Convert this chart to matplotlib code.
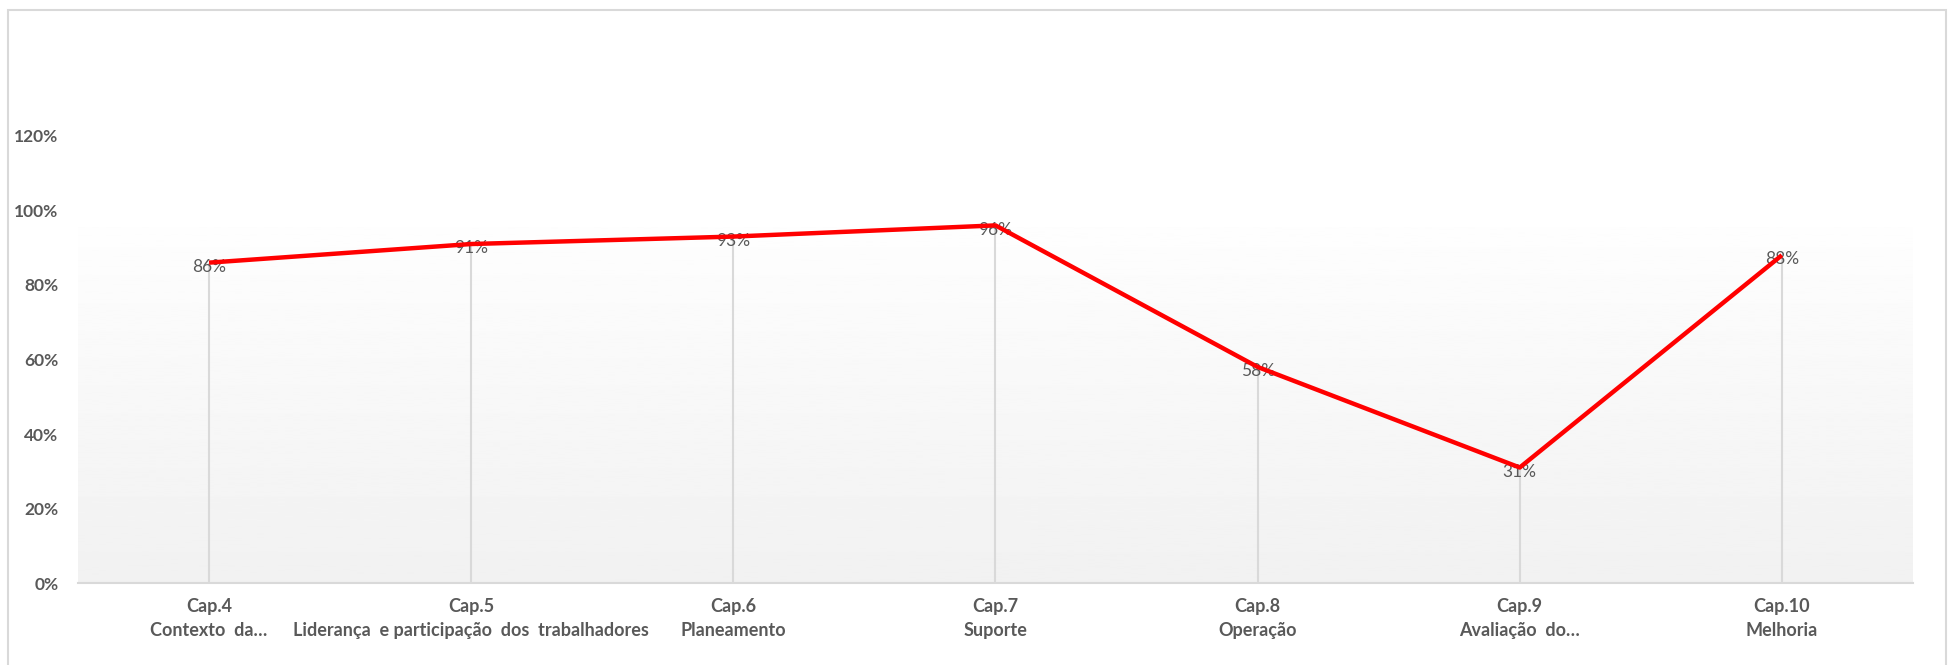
import numpy as np
import matplotlib
matplotlib.use("Agg")
from matplotlib import pyplot as plt
from matplotlib.patches import Rectangle

plt.rcParams['font.family'] = ['Lato', 'DejaVu Sans']

# capítulos e percentagem de cumprimento
chapters = ["Cap.4", "Cap.5", "Cap.6", "Cap.7", "Cap.8", "Cap.9", "Cap.10"]
names = ["Contexto  da…", "Liderança  e participação  dos  trabalhadores",
         "Planeamento", "Suporte", "Operação", "Avaliação  do…", "Melhoria"]
values = [86, 91, 93, 96, 58, 31, 88]
yticks = [0, 20, 40, 60, 80, 100, 120]

grey = '#595959'
light = '#d9d9d9'

fig = plt.figure(figsize=(19.5, 6.65), dpi=100)
ax = fig.add_axes([0.04, 0.1233, 0.941, 0.6722])

x = np.arange(len(chapters))
y = np.array(values) / 100

# fundo da área de gráfico em degradê
grad = np.linspace(0.945, 0.995, 256).reshape(-1, 1)
ax.imshow(grad, cmap='gray', vmin=0, vmax=1, aspect='auto',
          extent=(-0.5, len(chapters) - 0.5, 0, 0.953), origin='lower', zorder=0)

# linhas de chamada até ao eixo
ax.vlines(x, 0, y, color=light, lw=1.5, zorder=1)

for xi, yi, v in zip(x, y, values):
    ax.annotate(f"{v}%", (xi, yi), xytext=(0, -3), textcoords='offset points',
                ha='center', va='center', fontsize=12.5, color=grey, zorder=2)

ax.plot(x, y, color='#ff0000', lw=3.2, zorder=3, solid_capstyle='butt')

ax.set_xlim(-0.5, len(chapters) - 0.5)
ax.set_ylim(0, 1.2)
ax.set_yticks([t / 100 for t in yticks])
ax.set_yticklabels([f"{t}%" for t in yticks], fontsize=12.5, fontweight='bold', color=grey)
ax.set_xticks(x)
ax.set_xticklabels([f"{c}\n{n}" for c, n in zip(chapters, names)], fontsize=13,
                   fontweight='bold', color=grey, linespacing=1.45)
ax.tick_params(axis='both', length=0)
ax.tick_params(axis='y', pad=14)
ax.tick_params(axis='x', pad=11)

for s in ['top', 'left', 'right']:
    ax.spines[s].set_visible(False)
ax.spines['bottom'].set_color(light)
ax.spines['bottom'].set_linewidth(1.5)
ax.spines['bottom'].set_zorder(4)

# moldura do gráfico
fig.add_artist(Rectangle((0.004, -0.1), 0.994, 1.085, transform=fig.transFigure,
                         fill=False, edgecolor=light, lw=1.5))

fig.savefig('out.png', dpi=100, facecolor='white')
